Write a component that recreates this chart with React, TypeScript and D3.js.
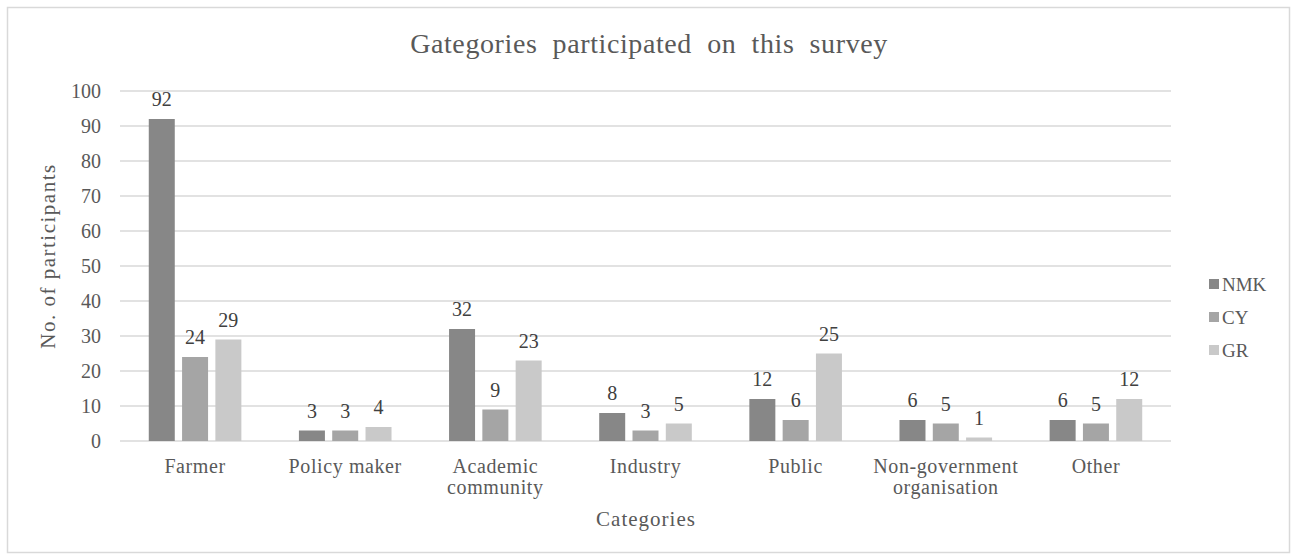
import React from "react";
import * as d3 from "d3";

const categories = ["Farmer", "Policy maker", "Academic\ncommunity", "Industry", "Public", "Non-government\norganisation", "Other"];
const seriesNames = ["NMK", "CY", "GR"];
const nmk = [92, 3, 32, 8, 12, 6, 6];
const cy = [24, 3, 9, 3, 6, 5, 5];
const gr = [29, 4, 23, 5, 25, 1, 12];
const yTicks = [0, 10, 20, 30, 40, 50, 60, 70, 80, 90, 100];
const colors = ["#878787", "#a5a5a5", "#c9c9c9"];

export default function App() {
  const W = 1296, H = 560;
  const left = 120, right = 1171, top = 91, bottom = 441;
  const x = d3.scaleBand<number>().domain(d3.range(categories.length)).range([left, right]);
  const y = d3.scaleLinear().domain([0, 100]).range([bottom, top]);
  const series = [nmk, cy, gr];
  const barW = 26, step = 33.3;
  const font = "'Liberation Serif', 'Times New Roman', serif";
  const txt = "#595959";
  return (
    <svg width={W} height={H} style={{ position: "absolute", left: 0, top: 0 }} fontFamily={font}>
      <rect x={0} y={0} width={W} height={H} fill="#fff" />
      <rect x={7.5} y={7.5} width={1282} height={545} fill="#fff" stroke="#d9d9d9" strokeWidth={1.5} />
      <text x={649} y={53} textAnchor="middle" fontSize={28} fill={txt} letterSpacing={0.6} style={{ whiteSpace: "pre" }}>{"Gategories  participated  on  this  survey"}</text>
      {yTicks.map((t) => (
        <g key={t}>
          <line x1={left} x2={right} y1={y(t)} y2={y(t)} stroke="#d9d9d9" strokeWidth={1.5} />
          <text x={101} y={y(t) + 7} textAnchor="end" fontSize={20} fill={txt}>{t}</text>
        </g>
      ))}
      {categories.map((c, i) => {
        const cx = x(i)! + x.bandwidth() / 2;
        return (
          <g key={i}>
            {series.map((s, k) => {
              const bx = cx + (k - 1) * step - barW / 2;
              return (
                <g key={k}>
                  <rect x={bx} y={y(s[i])} width={barW} height={bottom - y(s[i])} fill={colors[k]} />
                  <text x={bx + barW / 2} y={y(s[i]) - 13} textAnchor="middle" fontSize={20} fill="#404040">{s[i]}</text>
                </g>
              );
            })}
            {c.split("\n").map((ln, j) => (
              <text key={j} x={cx} y={473 + j * 21} textAnchor="middle" fontSize={20} letterSpacing={0.6} fill={txt}>{ln}</text>
            ))}
          </g>
        );
      })}
      <text x={646} y={526} textAnchor="middle" fontSize={21} letterSpacing={1} fill={txt}>Categories</text>
      <text transform={`translate(54.5, 256) rotate(-90)`} textAnchor="middle" fontSize={21} letterSpacing={1.5} fill={txt}>No. of participants</text>
      {seriesNames.map((n, k) => (
        <g key={n}>
          <rect x={1209} y={279 + k * 33} width={10} height={10} fill={colors[k]} />
          <text x={1222} y={291 + k * 33} fontSize={19} fill={txt}>{n}</text>
        </g>
      ))}
    </svg>
  );
}
